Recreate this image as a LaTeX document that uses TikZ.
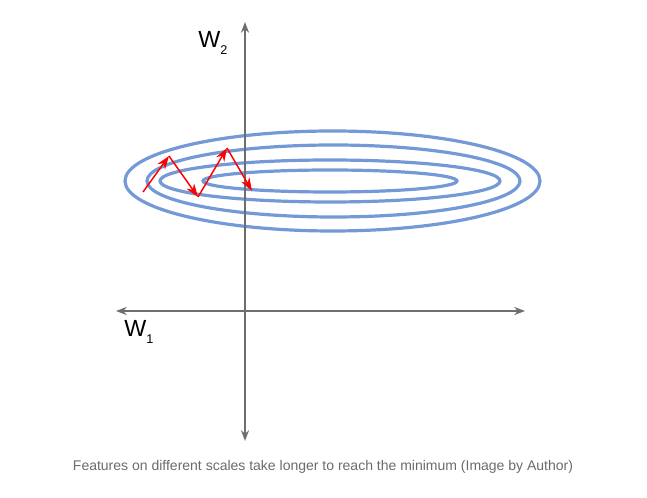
\documentclass[tikz,border=0pt]{standalone}
\usepackage{fontspec}
\setmainfont{Liberation Sans}
\usetikzlibrary{arrows.meta}
\definecolor{contour}{HTML}{7399D6}
\definecolor{axisgray}{HTML}{6E6E6E}
\definecolor{capgray}{HTML}{6B6B6B}
\begin{document}
\begin{tikzpicture}[x=0.75pt,y=-0.75pt,
  axis/.style={draw=axisgray,line width=1.4pt,-{Stealth[length=8pt,width=6pt,inset=2.5pt]}},
  level/.style={draw=contour,line width=2.4pt},
  stepline/.style={draw=red,line width=1.1pt,-{Stealth[length=10pt,width=7pt]}},
  lab/.style={font=\fontsize{17.5}{19}\selectfont,inner sep=0pt}]
\useasboundingbox (0,0) rectangle (647,498);
% contours
\draw[level] (332.5,181) ellipse [x radius=207.5, y radius=50];
\draw[level] (333.5,181) ellipse [x radius=186.5, y radius=36];
\draw[level] (330,181) ellipse [x radius=170, y radius=21];
\draw[level] (330,181) ellipse [x radius=127, y radius=11];
% axes
\coordinate (o) at (245,311);
\coordinate (ytop) at (245,22);
\coordinate (ybot) at (245,441);
\coordinate (xl) at (116,311);
\coordinate (xr) at (525,311);
\draw[axis] (o) -- (ytop);
\draw[axis] (o) -- (ybot);
\draw[axis] (o) -- (xl);
\draw[axis] (o) -- (xr);
% labels
\node[lab,anchor=west] (w2) at (198,43) {W\raisebox{-5pt}{\fontsize{9.5}{9.5}\selectfont 2}};
\node[lab,anchor=west] (w1) at (124,332) {W\raisebox{-5pt}{\fontsize{9.5}{9.5}\selectfont 1}};
% gradient steps
\coordinate (p0) at (143,192);
\coordinate (p1) at (169,156);
\coordinate (p2) at (198,197);
\coordinate (p3) at (227,148);
\coordinate (p4) at (252,191);
\draw[stepline] (p0) -- (p1);
\draw[stepline] (p1) -- (p2);
\draw[stepline] (p2) -- (p3);
\draw[stepline] (p3) -- (p4);
% caption
\node[text=capgray,font=\fontsize{10.5}{12}\selectfont,inner sep=0pt] (cap) at (323,467) {Features on different scales take longer to reach the minimum (Image by Author)};
\end{tikzpicture}
\end{document}
